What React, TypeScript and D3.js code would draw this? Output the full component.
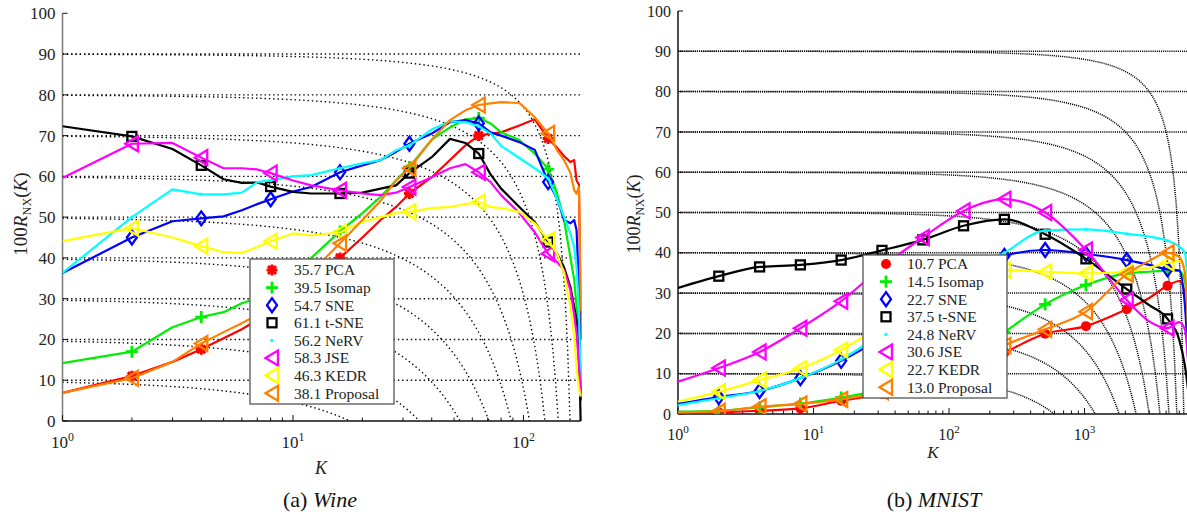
import React from 'react';
import * as d3 from 'd3';

// methods, in legend order
const methods = ['PCA', 'Isomap', 'SNE', 't-SNE', 'NeRV', 'JSE', 'KEDR', 'Proposal'];
const colors = ['#ff0000', '#00ee00', '#0000ff', '#000000', '#00ffff', '#ff00ff', '#ffff00', '#ff8000'];
const markers = ['star', 'plus', 'diamond', 'square', 'dot', 'tri', 'tri', 'tri'];

// ---- Wine (N = 178) ----
const wineK = [1, 2, 3, 4, 5, 6, 7, 8, 10, 12, 16, 20, 24, 28, 32, 40, 48, 56, 64, 72, 80, 96, 112, 128, 140, 150, 160, 166, 170, 174, 176, 177];
const winePCA = [6.9, 11, 14.5, 17.6, 20.3, 22.5, 24.8, 26.5, 30, 33.5, 40, 45, 49.3, 52.5, 55.8, 59.8, 64, 67.6, 70, 70.5, 70.8, 72.5, 74, 69.3, 67, 65, 63.5, 64, 59, 58, 38.7, 20];
const wineIsomap = [14.2, 17, 23, 25.5, 26.7, 28.9, 30.1, 32.3, 36.3, 40, 46.5, 51, 55, 59, 62.3, 69, 72, 74, 74.3, 73, 70.8, 68.9, 65.6, 61.8, 55.8, 49.3, 40, 34.6, 28, 18, 10, 5];
const wineSNE = [36.3, 45, 49, 49.7, 50.2, 51.7, 53.2, 54.4, 56.3, 57.4, 61, 62.7, 64, 66, 68, 70.5, 73.3, 73.8, 73, 70.8, 70, 68.4, 66.5, 58.6, 54.6, 49.3, 48.5, 49.3, 46.8, 33, 15.7, 5];
const wineTSNE = [72.3, 69.8, 66.7, 62.7, 59.3, 58.4, 58.5, 57.5, 56.2, 55.8, 55.8, 56, 57, 57.8, 60.8, 64.7, 69.2, 68.2, 65.6, 60.5, 57, 52.5, 48.8, 43.9, 41, 37.7, 32.8, 28, 24.7, 15, 7, 0];
const wineNeRV = [36.3, 50, 56.8, 55.6, 55.6, 56, 58.6, 59, 60, 60.3, 62, 63.2, 64, 66.4, 67.6, 71.5, 73.5, 73.3, 72.3, 70.5, 67.5, 64.5, 62, 59.5, 54.5, 50, 46, 42.7, 37.7, 28, 15.7, 10];
const wineJSE = [59.6, 68, 68.2, 64.6, 62, 62, 61.7, 60.8, 59, 57.8, 56.6, 55.8, 55.4, 56, 57.4, 59.8, 62, 63, 61, 58.6, 55.4, 51, 46.3, 41, 39, 37, 32, 26, 21.6, 14, 10, 6];
const wineKEDR = [44.1, 47.3, 45, 42.9, 41.4, 41.2, 42.7, 44.1, 46, 45.5, 46.3, 48.8, 50, 51, 51.3, 52.2, 52.5, 53.2, 53.7, 52.5, 52.2, 51.3, 48.5, 44.4, 41, 36.3, 28, 20.6, 13.2, 8.3, 6.9, 6];
const wineProposal = [6.9, 10.5, 14.5, 19, 21.8, 24, 26, 28, 32.5, 36.5, 43.6, 49.3, 54, 59, 62, 69, 73.8, 76.2, 77.5, 77.9, 78.2, 78, 74.5, 70.5, 66.4, 64, 60.8, 56.6, 55.8, 57.4, 42.7, 27];
const wineAUC = ['35.7', '39.5', '54.7', '61.1', '56.2', '58.3', '46.3', '38.1'];

// ---- MNIST (N = 6000) ----
const mnistK = [1, 2, 4, 8, 16, 32, 64, 128, 256, 512, 1024, 2048, 3000, 4096, 5000, 5500, 5999];
const mnistPCA = [0.3, 0.4, 0.8, 1.4, 3.3, 5, 7.5, 10, 15.2, 19.9, 21.8, 26, 28.8, 31.8, 33, 30, 5];
const mnistIsomap = [0.6, 0.8, 1.7, 2.6, 4.1, 6, 9, 13, 20.3, 27.2, 32, 34.9, 35.3, 35.6, 35.5, 33, 10];
const mnistSNE = [2.5, 4.2, 5.7, 8.9, 13.2, 19, 26, 33, 39.2, 40.7, 39.7, 38.2, 37, 35.9, 35.6, 27, 5];
const mnistTSNE = [31.3, 34.2, 36.5, 37, 38.2, 40.6, 43.2, 46.7, 48.3, 44.6, 38.5, 31, 27, 23.6, 18.4, 12, 2];
const mnistNeRV = [2.2, 3.9, 5.7, 8.9, 13.5, 20, 27, 34, 40, 45.5, 45.8, 44.7, 44, 43, 41.5, 40, 20];
const mnistJSE = [8, 11.4, 15.4, 21.3, 28, 36.5, 43.8, 50.4, 53.3, 50, 40.7, 28.3, 23, 21.3, 22.8, 21, 5];
const mnistKEDR = [3.1, 5.5, 8.4, 11.3, 15.9, 22, 27.5, 32, 35.7, 35.3, 34.9, 35.3, 36.3, 37.5, 38, 36, 10];
const mnistProposal = [0.4, 0.7, 1.8, 2.5, 3.6, 5.5, 8.2, 11.5, 17, 21, 25.4, 34.7, 38, 40, 39, 35, 8];
const mnistAUC = ['10.7', '14.5', '22.7', '37.5', '24.8', '30.6', '22.7', '13.0'];

const yTicks = [0, 10, 20, 30, 40, 50, 60, 70, 80, 90, 100];
const qLevels = [0.1, 0.2, 0.3, 0.4, 0.5, 0.6, 0.7, 0.8, 0.9];

const FONT = '"Liberation Serif", "DejaVu Serif", serif';

function Marker({ type, color, x, y, s = 1 }) {
  const sw = 2.3;
  if (type === 'star') {
    return (
      <g transform={`translate(${x},${y}) scale(${s})`} stroke={color} strokeWidth={3}>
        <line x1={-5.5} y1={0} x2={5.5} y2={0} />
        <line x1={0} y1={-5.5} x2={0} y2={5.5} />
        <line x1={-4} y1={-4} x2={4} y2={4} />
        <line x1={-4} y1={4} x2={4} y2={-4} />
        <circle r={3.5} fill={color} stroke="none" />
      </g>
    );
  }
  if (type === 'circle') return <circle cx={x} cy={y} r={5 * s} fill={color} />;
  if (type === 'plus') {
    return (
      <g transform={`translate(${x},${y}) scale(${s})`} stroke={color} strokeWidth={2.8}>
        <line x1={-6} y1={0} x2={6} y2={0} />
        <line x1={0} y1={-6} x2={0} y2={6} />
      </g>
    );
  }
  if (type === 'diamond') {
    return <path transform={`translate(${x},${y}) scale(${s})`} d="M0,-7L5,0L0,7L-5,0Z" fill="none" stroke={color} strokeWidth={sw} />;
  }
  if (type === 'square') {
    return <rect x={x - 4.5 * s} y={y - 4.5 * s} width={9 * s} height={9 * s} fill="none" stroke={color} strokeWidth={sw} />;
  }
  if (type === 'dot') return <circle cx={x} cy={y} r={1.7} fill={color} />;
  return <path transform={`translate(${x},${y}) scale(${s})`} d="M-6.5,0L6,-7.5L6,7.5Z" fill="none" stroke={color} strokeWidth={sw} strokeLinejoin="miter" />;
}

function Panel(p) {
  const x = d3.scaleLog().domain([1, p.kMax]).range([p.x0, p.x1]);
  const y = d3.scaleLinear().domain([0, 100]).range([p.y0, p.y100]);
  const line = d3
    .line<number>()
    .x((_, i) => x(p.ks[i]))
    .y((d) => y(d))
    .curve(p.smooth ? d3.curveMonotoneX : d3.curveLinear);

  // iso-Q guide curves: R = ((N-1)Q - K) / (N-1-K)
  const guides = qLevels.map((q) => {
    const kEnd = p.kMax * q;
    const pts = d3.range(0, 201).map((i) => Math.pow(kEnd, i / 200));
    return d3
      .line<number>()
      .x((k) => x(k))
      .y((k) => y((100 * (p.kMax * q - k)) / (p.kMax - k)))(pts);
  });

  const majors = d3.range(0, Math.floor(Math.log10(p.kMax)) + 1);
  const minors = [];
  majors.forEach((d) => {
    for (let m = 2; m <= 9; m++) {
      const k = m * Math.pow(10, d);
      if (k <= p.kMax) minors.push(k);
    }
  });
  const markK = p.ks.filter((k) => k >= 2 && Math.log2(k) % 1 === 0 && k < p.kMax);

  const clipId = `clip-${p.id}`;
  return (
    <g fontFamily={FONT}>
      <defs>
        <clipPath id={clipId}>
          <rect x={p.x0} y={p.y100 - 10} width={p.x1 - p.x0 + 2} height={p.y0 - p.y100 + 10} />
        </clipPath>
      </defs>
      {/* dotted guides */}
      <g clipPath={`url(#${clipId})`} fill="none" stroke="#000" strokeWidth={p.dotW} strokeDasharray={p.dash}>
        {qLevels.map((q) => (
          <line key={q} x1={p.x0} x2={p.x1} y1={y(q * 100)} y2={y(q * 100)} />
        ))}
        {guides.map((g, i) => (
          <path key={i} d={g} />
        ))}
      </g>
      {/* axes */}
      <line x1={p.x0} x2={p.x0} y1={p.y0} y2={p.y100} stroke={p.axisColor} strokeWidth={1.6} />
      <line x1={p.x0} x2={p.x1} y1={p.y0} y2={p.y0} stroke="#111" strokeWidth={1.6} />
      {yTicks.map((t) => (
        <g key={t}>
          <line x1={p.x0} x2={p.x0 + 5} y1={y(t)} y2={y(t)} stroke="#111" strokeWidth={1} />
          <text x={p.x0 - 7} y={y(t)} dy="0.35em" textAnchor="end" fontSize={p.tickFs} fill="#222">
            {t}
          </text>
        </g>
      ))}
      {majors.map((d) => (
        <g key={d}>
          <line x1={x(Math.pow(10, d))} x2={x(Math.pow(10, d))} y1={p.y0} y2={p.y0 - 6} stroke="#111" />
          <text x={x(Math.pow(10, d))} y={p.y0 + p.xLabDy} textAnchor="middle" fontSize={p.tickFs} fill="#222">
            10<tspan fontSize={p.tickFs * 0.7} dy={-7}>{d}</tspan>
          </text>
        </g>
      ))}
      {minors.map((k) => (
        <line key={k} x1={x(k)} x2={x(k)} y1={p.y0} y2={p.y0 - 3.5} stroke="#111" />
      ))}
      {/* series */}
      <g clipPath={`url(#${clipId})`}>
        {p.series.map((vals, si) => (
          <g key={si}>
            <path d={line(vals)} fill="none" stroke={colors[si]} strokeWidth={2.2} strokeLinejoin="round" />
            {markK.map((k) => (
              <Marker key={k} type={si === 0 ? p.pcaMarker : markers[si]} color={colors[si]} x={x(k)} y={y(vals[p.ks.indexOf(k)])} />
            ))}
          </g>
        ))}
      </g>
      {/* axis titles */}
      <text transform={`translate(${p.yLab[0]},${p.yLab[1]}) rotate(-90)`} textAnchor="middle" fontSize={p.tickFs + 2} fill="#222">
        100<tspan fontStyle="italic">R</tspan>
        <tspan fontSize={(p.tickFs + 2) * 0.65} dy={4}>NX</tspan>
        <tspan dy={-4}>(</tspan>
        <tspan fontStyle="italic">K</tspan>)
      </text>
      <text x={p.kLab[0]} y={p.kLab[1]} textAnchor="middle" fontStyle="italic" fontSize={p.tickFs + 1} fill="#222">
        K
      </text>
      {/* legend */}
      <rect x={p.leg[0]} y={p.leg[1]} width={p.leg[2]} height={p.leg[3]} fill="#fff" stroke="#555" strokeWidth={1.3} />
      {methods.map((m, i) => {
        const ry = p.leg[1] + p.legRow0 + i * 17.6;
        return (
          <g key={m}>
            <Marker type={i === 0 ? p.pcaMarker : markers[i]} color={colors[i]} x={p.leg[0] + p.legMx} y={ry} />
            <text x={p.leg[0] + p.legTx} y={ry} dy="0.35em" fontSize={15.5} fill="#222">
              {p.auc[i]} {m}
            </text>
          </g>
        );
      })}
      {/* caption */}
      <text x={p.cap[0]} y={p.cap[1]} textAnchor="middle" fontSize={22} fill="#111">
        {p.capLetter} <tspan fontStyle="italic">{p.capName}</tspan>
      </text>
    </g>
  );
}

export default function App() {
  return (
    <svg width={1187} height={518} style={{ position: 'absolute', left: 0, top: 0, background: '#fff' }}>
      <rect width={1187} height={518} fill="#fff" />
      <Panel
        id="wine"
        ks={wineK}
        kMax={177}
        x0={62.5}
        x1={580.6}
        y0={421}
        y100={13.3}
        smooth={false}
        series={[winePCA, wineIsomap, wineSNE, wineTSNE, wineNeRV, wineJSE, wineKEDR, wineProposal]}
        auc={wineAUC}
        pcaMarker="star"
        dash="1.4 2.9"
        dotW={1.4}
        axisColor="#808080"
        tickFs={17}
        xLabDy={27}
        yLab={[27, 214]}
        kLab={[321, 474]}
        leg={[250, 259, 144, 145]}
        legRow0={11}
        legMx={22}
        legTx={44}
        cap={[320, 507]}
        capLetter="(a)"
        capName="Wine"
      />
      <Panel
        id="mnist"
        ks={mnistK}
        kMax={5999}
        x0={678}
        x1={1190}
        y0={414}
        y100={11}
        smooth={true}
        series={[mnistPCA, mnistIsomap, mnistSNE, mnistTSNE, mnistNeRV, mnistJSE, mnistKEDR, mnistProposal]}
        auc={mnistAUC}
        pcaMarker="circle"
        dash="1.1 1"
        dotW={1.5}
        axisColor="#222"
        tickFs={16}
        xLabDy={26}
        yLab={[640, 214]}
        kLab={[933, 458]}
        leg={[863, 255, 144, 143]}
        legRow0={9}
        legMx={23}
        legTx={44}
        cap={[934, 507]}
        capLetter="(b)"
        capName="MNIST"
      />
    </svg>
  );
}
